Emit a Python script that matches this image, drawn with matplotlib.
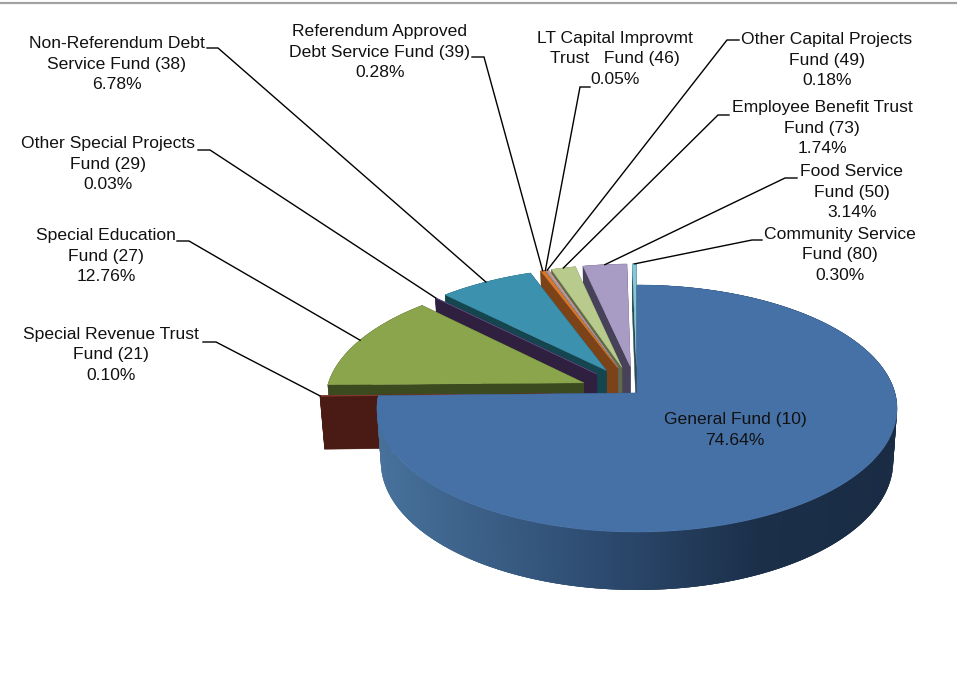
import numpy as np
import matplotlib
matplotlib.use('Agg')
import matplotlib.pyplot as plt
from matplotlib.colors import to_rgb

plt.rcParams['font.family'] = ['Liberation Sans', 'DejaVu Sans']

# clockwise from 12 o'clock
funds = ['General Fund (10)', 'Special Revenue Trust\nFund (21)', 'Special Education\nFund (27)',
         'Other Special Projects\nFund (29)', 'Non-Referendum Debt\nService Fund (38)',
         'Referendum Approved\nDebt Service Fund (39)', 'LT Capital Improvmt\nTrust   Fund (46)',
         'Other Capital Projects\nFund (49)', 'Employee Benefit Trust\nFund (73)', 'Food Service\nFund (50)',
         'Community Service\nFund (80)']
shares = [74.64, 0.10, 12.76, 0.03, 6.78, 0.28, 0.05, 0.18, 1.74, 3.14, 0.30]
top_colors = ['#4671a7', '#8c3a32', '#8aa54b', '#5e4a80', '#3c92ae', '#d9772c', '#8fa9cf', '#c79a98',
              '#b8cb8c', '#a89bc4', '#86c8da']
side_colors = ['#2c4a6e', '#4a1b14', '#3c4a20', '#30203f', '#15454f', '#7b4317', '#56657a', '#6d5a58',
               '#606b48', '#47425a', '#2c4a55']
explode = [0, 0.225, 0.225, 0.225, 0.225, 0.225, 0.225, 0.225, 0.225, 0.225, 0.225]

# label layout: centre of text, then leader start and elbow, in pixels
label_xy = [(735, 430), (111, 355), (106, 256), (108, 164), (117, 64), (380, 52), (615, 59), (827, 60),
            (822, 128), (852, 192), (840, 255)]
leader_from = [None, (203, 342), (177, 241), (198, 150), (207, 48), (472, 57), (590, 87), (739, 40),
               (729, 115), (797, 178), (762, 240)]
leader_elbow = [None, (216, 342), (189, 241), (210, 150), (218, 48), (484, 57), (580, 87), (727, 40),
                (718, 115), (785, 178), (752, 240)]

CX, CY = 637, 393
A, B, K = 258, 121.6, 0.1255
DEPTH, SHRINK = 53.6, 0.015


def project(x, y, down=False):
    # perspective view of the unit disc, far side smaller
    w = 1 + K * np.asarray(y)
    if down:
        w = w + SHRINK
        return CX + A * np.asarray(x) / w, CY + (-B * np.asarray(y) + DEPTH) / w
    return CX + A * np.asarray(x) / w, CY - B * np.asarray(y) / w


def wall_color(x):
    stops = [to_rgb(c) for c in ['#47719b', '#2d4b70', '#1b2f49', '#1a2c44']]
    return [np.interp(x, [380, 600, 760, 897], [s[i] for s in stops]) for i in range(3)]


fig = plt.figure(figsize=(9.57, 6.75), dpi=100)
ax = fig.add_axes([0, 0, 1, 1])
ax.set_xlim(0, 957)
ax.set_ylim(675, 0)
ax.axis('off')

ax.plot([0, 957], [3, 3], color='#a3a3a3', lw=1.6)

ends = np.cumsum(shares) / np.sum(shares) * 2 * np.pi
starts = ends - np.array(shares) / np.sum(shares) * 2 * np.pi
mids = (starts + ends) / 2

# back slices first, the big one last
for i in range(len(funds) - 1, -1, -1):
    ox = explode[i] * np.sin(mids[i])
    oy = explode[i] * np.cos(mids[i])
    th = np.linspace(starts[i], ends[i], max(3, int((ends[i] - starts[i]) * 180)))
    xs = ox + np.sin(th)
    ys = oy + np.cos(th)
    tx, ty = project(xs, ys)
    bx, by = project(xs, ys, True)
    ax0, ay0 = project(ox, oy)
    bx0, by0 = project(ox, oy, True)

    # radial cut faces
    for k in [-1, 0]:
        ax.fill([ax0, tx[k], bx[k], bx0], [ay0, ty[k], by[k], by0], color=side_colors[i], lw=0.3)

    # outer wall, strips overlap the next one so no seams show
    if i == 0:
        for j in range(len(th) - 1):
            n = min(j + 3, len(th) - 1)
            ax.fill(np.r_[tx[j:n + 1], bx[j:n + 1][::-1]], np.r_[ty[j:n + 1], by[j:n + 1][::-1]],
                    color=wall_color((tx[j] + tx[j + 1]) / 2), lw=0)
    else:
        ax.fill(np.r_[tx, bx[::-1]], np.r_[ty, by[::-1]], color=side_colors[i], lw=0.3)

    ax.fill(np.r_[ax0, tx], np.r_[ay0, ty], color=top_colors[i], lw=0.3)

# leaders go to the middle of each slice's rim
for i in range(1, len(funds)):
    rim_x = (1 + explode[i]) * np.sin(mids[i])
    rim_y = (1 + explode[i]) * np.cos(mids[i])
    ex, ey = project(rim_x, rim_y)
    ax.plot([leader_from[i][0], leader_elbow[i][0], ex], [leader_from[i][1], leader_elbow[i][1], ey],
            color='black', lw=1.0, solid_joinstyle='miter')

for i in range(len(funds)):
    ax.text(label_xy[i][0], label_xy[i][1], '%s\n%.2f%%' % (funds[i], shares[i]), ha='center', va='center',
            multialignment='center', fontsize=12.6, linespacing=1.45, color='#111111')

fig.savefig('out.png', dpi=100)
